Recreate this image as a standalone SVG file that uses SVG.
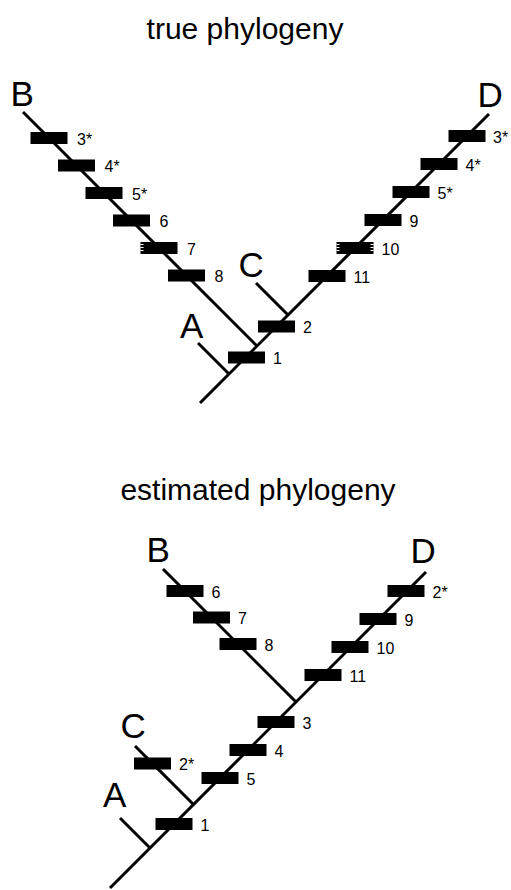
<svg xmlns="http://www.w3.org/2000/svg" width="511" height="890" viewBox="0 0 511 890">
<style>
  .ttl{font-family:"Liberation Sans",Arial,sans-serif;font-size:30px;fill:#000;text-anchor:middle}
  .tx{font-family:"Liberation Sans",Arial,sans-serif;font-size:35px;fill:#000}
  .lb{font-family:"Liberation Sans",Arial,sans-serif;font-size:16px;fill:#000}
  .br{stroke:#000;stroke-width:3;fill:none;stroke-linecap:butt}
  .mk{fill:#000}
  .hat{stroke:#fff;stroke-width:1}
</style>
<rect width="511" height="890" fill="#fff"/>
<text class="ttl" x="245" y="39">true phylogeny</text>
<text class="ttl" x="258" y="500">estimated phylogeny</text>

<g id="connectors">
  <!-- top tree -->
  <path class="br" d="M200,403 L489,114"/>
  <path class="br" d="M198,343 L229,374"/>
  <path class="br" d="M23,112 L257,346"/>
  <path class="br" d="M256,283 L288,315"/>
  <!-- bottom tree -->
  <path class="br" d="M110,888 L426,572"/>
  <path class="br" d="M120,818 L150,848"/>
  <path class="br" d="M135,746 L193.5,804.5"/>
  <path class="br" d="M163,569 L296,702"/>
</g>

<!-- top taxa -->
<g id="top-A"><text class="tx" x="180" y="338">A</text></g>
<g id="top-B"><text class="tx" x="10.5" y="106">B</text></g>
<g id="top-C"><text class="tx" x="238.5" y="277">C</text></g>
<g id="top-D"><text class="tx" x="477.5" y="107">D</text></g>

<!-- top markers -->
<g id="top-m1"><rect class="mk" x="228" y="351.5" width="37" height="12"/><text class="lb" x="273" y="364">1</text></g>
<g id="top-m2"><rect class="mk" x="258" y="320.5" width="37" height="12"/><text class="lb" x="303" y="333">2</text></g>
<g id="top-m11"><rect class="mk" x="308.5" y="270" width="37" height="12"/><text class="lb" x="353.5" y="282.5">11</text></g>
<g id="top-m10"><rect class="mk" x="336.5" y="242" width="37" height="12"/>
  <path class="hat" d="M336.5,244.5h3M336.5,247.5h3M336.5,250.5h3M370.5,244.5h3M370.5,247.5h3M370.5,250.5h3"/>
  <text class="lb" x="381.5" y="254.5">10</text></g>
<g id="top-m9"><rect class="mk" x="364.5" y="214" width="37" height="12"/><text class="lb" x="409.5" y="226.5">9</text></g>
<g id="top-m5s"><rect class="mk" x="392.5" y="186" width="37" height="12"/><text class="lb" x="437.5" y="198.5">5*</text></g>
<g id="top-m4s"><rect class="mk" x="420.5" y="158" width="37" height="12"/><text class="lb" x="465.5" y="170.5">4*</text></g>
<g id="top-m3s"><rect class="mk" x="448.5" y="130" width="37" height="12"/><text class="lb" x="493" y="142.5">3*</text></g>
<g id="top-m3b"><rect class="mk" x="30.5" y="132" width="37" height="12"/><text class="lb" x="77" y="144.5">3*</text></g>
<g id="top-m4b"><rect class="mk" x="58" y="159.5" width="37" height="12"/><text class="lb" x="104.5" y="172">4*</text></g>
<g id="top-m5b"><rect class="mk" x="85.5" y="187" width="37" height="12"/><text class="lb" x="132" y="199.5">5*</text></g>
<g id="top-m6"><rect class="mk" x="113" y="214.5" width="37" height="12"/><text class="lb" x="159.5" y="227">6</text></g>
<g id="top-m7"><rect class="mk" x="140.5" y="242" width="37" height="12"/>
  <path class="hat" d="M140.5,244.5h3M140.5,247.5h3M140.5,250.5h3"/>
  <text class="lb" x="187" y="254.5">7</text></g>
<g id="top-m8"><rect class="mk" x="168" y="269.5" width="37" height="12"/><text class="lb" x="214.5" y="282">8</text></g>

<!-- bottom taxa -->
<g id="bot-A"><text class="tx" x="103" y="807">A</text></g>
<g id="bot-B"><text class="tx" x="146.5" y="562">B</text></g>
<g id="bot-C"><text class="tx" x="120.5" y="738">C</text></g>
<g id="bot-D"><text class="tx" x="410.5" y="563">D</text></g>

<!-- bottom markers -->
<g id="bot-m1"><rect class="mk" x="155.5" y="818" width="37" height="12"/><text class="lb" x="200.5" y="830.5">1</text></g>
<g id="bot-m2s"><rect class="mk" x="134" y="757.5" width="37" height="12"/><text class="lb" x="179" y="770">2*</text></g>
<g id="bot-m5"><rect class="mk" x="201.5" y="772" width="37" height="12"/><text class="lb" x="246.5" y="784.5">5</text></g>
<g id="bot-m4"><rect class="mk" x="229.5" y="744" width="37" height="12"/><text class="lb" x="274.5" y="756.5">4</text></g>
<g id="bot-m3"><rect class="mk" x="257.5" y="716" width="37" height="12"/><text class="lb" x="302.5" y="728.5">3</text></g>
<g id="bot-m6"><rect class="mk" x="166.5" y="585" width="37" height="12"/><text class="lb" x="211.5" y="597.5">6</text></g>
<g id="bot-m7"><rect class="mk" x="193" y="611.5" width="37" height="12"/><text class="lb" x="238" y="624">7</text></g>
<g id="bot-m8"><rect class="mk" x="219.5" y="638" width="37" height="12"/><text class="lb" x="264.5" y="650.5">8</text></g>
<g id="bot-m11"><rect class="mk" x="304.5" y="669" width="37" height="12"/><text class="lb" x="349.5" y="681.5">11</text></g>
<g id="bot-m10"><rect class="mk" x="331.5" y="641" width="37" height="12"/><text class="lb" x="376.5" y="653.5">10</text></g>
<g id="bot-m9"><rect class="mk" x="359.5" y="613" width="37" height="12"/><text class="lb" x="404.5" y="625.5">9</text></g>
<g id="bot-m2d"><rect class="mk" x="387.5" y="585" width="37" height="12"/><text class="lb" x="432.5" y="597.5">2*</text></g>
</svg>
